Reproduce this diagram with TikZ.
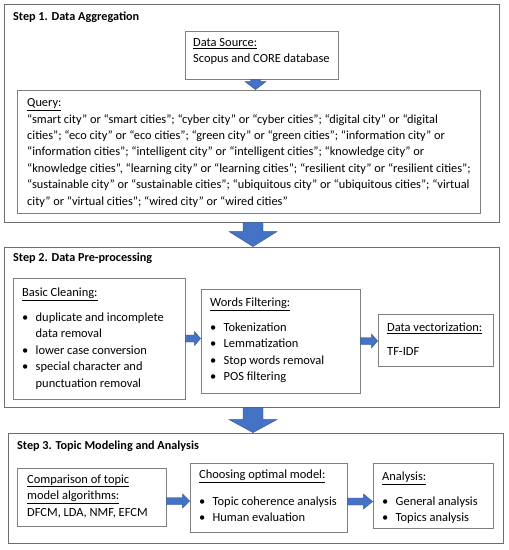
\documentclass[tikz,border=0pt]{standalone}
\usepackage{fontspec}
\setmainfont{Carlito}
\usetikzlibrary{calc}
\definecolor{boxgray}{HTML}{7F7F7F}
\definecolor{outgray}{HTML}{6E6E6E}
\definecolor{arrfill}{HTML}{4472C4}
\definecolor{arredge}{HTML}{2F528F}
\newcommand\bitem[1]{\makebox[13.5pt][l]{\textbullet}#1}
\newcommand\bcont[1]{\hspace*{13.5pt}#1}
\newcommand\vblock[5]{%
  \path[barrow] let \p1=(#1), \p2=(#2) in
    (\x1-#3,\y1) -- (\x1+#3,\y1) -- (\x1+#3,\y2+#5) -- (\x1+#4,\y2+#5) -- (\x1,\y2)
    -- (\x1-#4,\y2+#5) -- (\x1-#3,\y2+#5) -- cycle;}
\newcommand\hblock[5]{%
  \path[barrow] let \p1=(#1), \p2=(#2) in
    (\x1,\y1+#3) -- (\x2-#5,\y1+#3) -- (\x2-#5,\y1+#4) -- (\x2,\y1)
    -- (\x2-#5,\y1-#4) -- (\x2-#5,\y1-#3) -- (\x1,\y1-#3) -- cycle;}
\begin{document}
\begin{tikzpicture}[x=1pt,y=-1pt,
  outbox/.style={draw=outgray,line width=0.9pt,inner sep=0pt},
  inbox/.style={draw=boxgray,line width=0.9pt,inner sep=0pt},
  txt/.style={inner sep=0pt,anchor=north west,align=left,font=\fontsize{12.45}{16.5}\selectfont},
  qtxt/.style={inner sep=0pt,anchor=north west,align=left,font=\fontsize{12.35}{16.4}\selectfont},
  ttl/.style={inner sep=0pt,anchor=west,font=\fontsize{12.2}{14}\selectfont\bfseries},
  barrow/.style={fill=arrfill,draw=arredge,line width=0.4pt}]
\useasboundingbox (0,0) rectangle (509,550);
\fill[white] (0,0) rectangle (509,550);
% Step 1
\node[outbox,minimum width=495pt,minimum height=218pt] (out1) at (251.5,113) {};
\node[ttl] (t1) at (13,17) {Step 1. Data Aggregation};
\node[inbox,minimum width=153pt,minimum height=48pt] (ds) at (261.5,55) {};
\node[txt] (dstx) at (193,38) {\underline{Data Source:}\\Scopus and CORE database};
\node[inbox,minimum width=463pt,minimum height=123pt] (q) at (248.5,151.5) {};
\node[qtxt] (qtx) at (27,98.5) {\underline{Query:}\\
“smart city” or “smart cities”; “cyber city” or “cyber cities”; “digital city” or “digital\\
cities”; “eco city” or “eco cities”; “green city” or “green cities”; “information city” or\\
“information cities”; “intelligent city” or “intelligent cities”; “knowledge city” or\\
“knowledge cities”, “learning city” or “learning cities”; “resilient city” or “resilient cities”;\\
“sustainable city” or “sustainable cities”; “ubiquitous city” or “ubiquitous cities”; “virtual\\
city” or “virtual cities”; “wired city” or “wired cities”};
% Step 2
\node[outbox,minimum width=495pt,minimum height=160pt] (out2) at (251.5,327) {};
\node[ttl] (t2) at (13,258) {Step 2. Data Pre-processing};
\node[inbox,minimum width=172pt,minimum height=121pt] (bc) at (99,338.5) {};
\node[txt] (bctx) at (22,287.5) {\underline{Basic Cleaning:}\\[8.5pt]
\bitem{duplicate and incomplete}\\\bcont{data removal}\\
\bitem{lower case conversion}\\
\bitem{special character and}\\\bcont{punctuation removal}};
\node[inbox,minimum width=159pt,minimum height=104pt] (wf) at (280.5,341) {};
\node[txt] (wftx) at (210,297.5) {\underline{Words Filtering:}\\[8.5pt]
\bitem{Tokenization}\\\bitem{Lemmatization}\\\bitem{Stop words removal}\\\bitem{POS filtering}};
\node[inbox,minimum width=115pt,minimum height=52pt] (dv) at (435.5,340) {};
\node[txt] (dvtx) at (387,322.5) {\underline{Data vectorization:}\\[7.5pt]TF-IDF};
% Step 3
\node[outbox,minimum width=495pt,minimum height=110pt] (out3) at (255.5,488) {};
\node[ttl] (t3) at (17,446) {Step 3. Topic Modeling and Analysis};
\node[inbox,minimum width=149pt,minimum height=58pt] (cmp) at (91.5,497) {};
\node[txt] (cmptx) at (27,474.5) {\underline{Comparison of topic}\\\underline{model algorithms:}\\DFCM, LDA, NMF, EFCM};
\node[inbox,minimum width=157pt,minimum height=69pt] (ch) at (268.5,497.5) {};
\node[txt] (chtx) at (199,469.5) {\underline{Choosing optimal model:}\\[10.5pt]
\bitem{Topic coherence analysis}\\\bitem{Human evaluation}};
\node[inbox,minimum width=120pt,minimum height=65pt] (an) at (433,495.5) {};
\node[txt] (antx) at (382,471.5) {\underline{Analysis:}\\[8.5pt]
\bitem{General analysis}\\\bitem{Topics analysis}};
% arrows
\vblock{$(ds.south)+(-6,0)$}{q.north}{5pt}{10.5pt}{8pt}
\vblock{$(out1.south)+(1.5,0)$}{out2.north}{10pt}{24pt}{15pt}
\vblock{$(out2.south)+(1.5,0)$}{out3.north}{10pt}{24pt}{13pt}
\hblock{bc.east}{wf.west}{3.5pt}{7pt}{6pt}
\hblock{wf.east}{dv.west}{3.5pt}{7pt}{6pt}
\hblock{$(cmp.east)+(0,4)$}{ch.west}{3.5pt}{7pt}{7pt}
\hblock{$(ch.east)+(0,4)$}{an.west}{3.5pt}{7.5pt}{9pt}
\end{tikzpicture}
\end{document}
